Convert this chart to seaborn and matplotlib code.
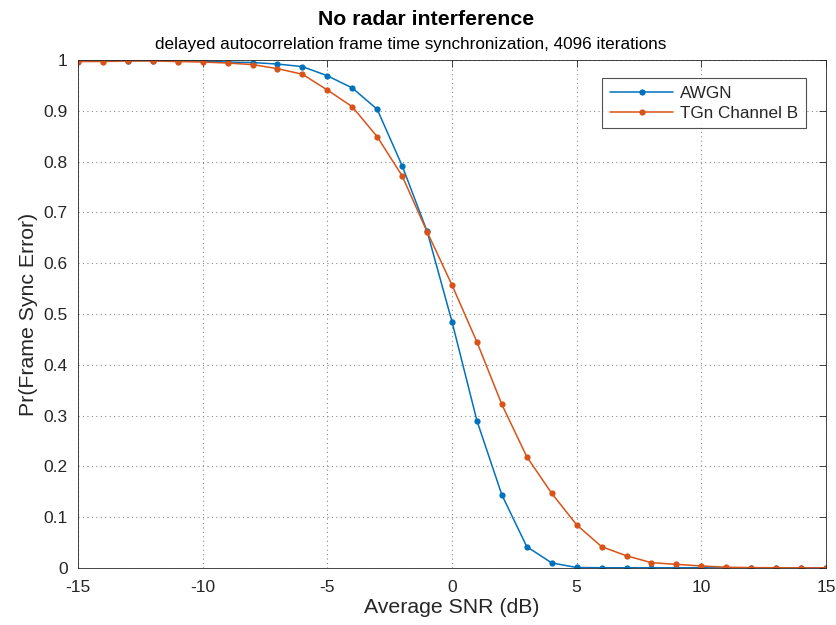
import numpy as np
import pandas as pd
import matplotlib
matplotlib.use("Agg")
import matplotlib.pyplot as plt
import seaborn as sns
from matplotlib.ticker import FuncFormatter

# --- DONNEES ---
snr_db = list(range(-15, 16))
awgn = [1.0, 1.0, 0.999, 0.999, 0.999, 0.998, 0.996, 0.995, 0.992, 0.987,
        0.969, 0.945, 0.903, 0.792, 0.663, 0.485, 0.290, 0.144, 0.042, 0.010,
        0.001, 0.0005, 0.0005, 0.0005, 0.0005, 0.0005, 0.0, 0.0, 0.0, 0.0, 0.0]
tgn_b = [0.997, 0.997, 0.998, 0.998, 0.997, 0.996, 0.994, 0.991, 0.983, 0.972,
         0.941, 0.908, 0.849, 0.772, 0.662, 0.557, 0.445, 0.322, 0.219, 0.147,
         0.085, 0.042, 0.024, 0.0105, 0.0072, 0.004, 0.0015, 0.0008, 0.0005, 0.0003, 0.0002]
series_names = ["AWGN", "TGn Channel B"]
colors = ["#0072BD", "#D95319"]

df = pd.DataFrame({
    "snr": snr_db * 2,
    "perr": awgn + tgn_b,
    "canal": [series_names[0]] * len(snr_db) + [series_names[1]] * len(snr_db),
})

# --- FIGURE ---
sns.set_theme(style="white")
plt.rcParams["font.family"] = ["Liberation Sans", "DejaVu Sans"]
plt.rcParams["axes.unicode_minus"] = False
plt.rcParams["xtick.direction"] = "in"
plt.rcParams["ytick.direction"] = "in"

fig = plt.figure(figsize=(8.36, 6.25), dpi=100)
ax = fig.add_axes([0.0933, 0.0912, 0.8947, 0.8128])

sns.lineplot(data=df, x="snr", y="perr", hue="canal", palette=colors,
             marker="o", markersize=4.5, markeredgewidth=0, linewidth=1.1,
             ax=ax)

ax.set_xlim(-15, 15)
ax.set_ylim(0, 1)
ax.set_xticks(range(-15, 16, 5))
ax.set_yticks(np.arange(0, 1.01, 0.1))
ax.yaxis.set_major_formatter(FuncFormatter(lambda v, p: f"{v:g}"))
ax.tick_params(axis="both", labelsize=12.5, colors="#262626", length=5,
               width=0.6, top=True, right=True)
ax.tick_params(axis="x", pad=8.5)
ax.tick_params(axis="y", pad=7.5)
ax.grid(True, linestyle=(0, (1, 3)), color="#8a8a8a", linewidth=0.8)
for s in ax.spines.values():
    s.set_color("#262626")
    s.set_linewidth(0.6)

ax.set_xlabel("Average SNR (dB)", fontsize=15.3, color="#262626", labelpad=2)
ax.set_ylabel("Pr(Frame Sync Error)", fontsize=15.3, color="#262626", labelpad=4)

fig.text(0.5096, 0.969, "No radar interference", ha="center", va="center",
         fontsize=15.3, fontweight="bold", color="black")
fig.text(0.4916, 0.928, "delayed autocorrelation frame time synchronization, 4096 iterations",
         ha="center", va="center", fontsize=12.3, color="black")

leg = ax.legend(loc="upper right", bbox_to_anchor=(0.9733, 0.9646), borderaxespad=0,
                fontsize=12.3, frameon=True, fancybox=False, handlelength=3.7,
                handletextpad=0.4, borderpad=0.45, labelspacing=0.3)
leg.get_frame().set_edgecolor("#262626")
leg.get_frame().set_linewidth(0.8)

plt.savefig("out.png", dpi=100)
